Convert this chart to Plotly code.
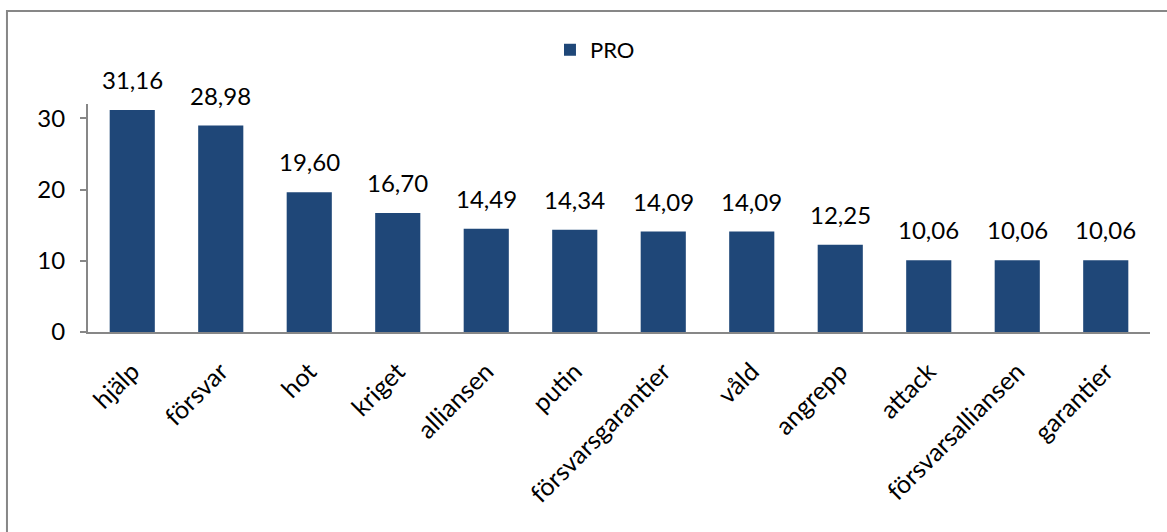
import plotly.graph_objects as go

categories = ["hjälp", "försvar", "hot", "kriget", "alliansen", "putin",
              "försvarsgarantier", "våld", "angrepp", "attack",
              "försvarsalliansen", "garantier"]
values = [31.16, 28.98, 19.60, 16.70, 14.49, 14.34, 14.09, 14.09, 12.25, 10.06, 10.06, 10.06]
series_name = "PRO"
y_ticks = [0, 10, 20, 30]

BAR = "#1F4778"
GRAY = "#878787"
FONT = "Lato"

fig = go.Figure()
fig.add_trace(go.Bar(x=categories, y=values, name=series_name,
                     marker=dict(color=BAR, line=dict(width=0)),
                     width=0.51, showlegend=True))

for c, v in zip(categories, values):
    fig.add_annotation(x=c, y=v, text=f"{v:.2f}".replace(".", ","),
                       showarrow=False, yanchor="bottom", yshift=14,
                       font=dict(family=FONT, size=24, color="#000"))

fig.add_shape(type="rect", xref="paper", yref="paper",
              x0=-0.0763, x1=1.2, y0=-1.2, y1=1.408,
              line=dict(color=GRAY, width=2), fillcolor="rgba(0,0,0,0)", layer="below")

fig.update_layout(
    width=1167, height=532,
    margin=dict(l=88, r=17, t=104, b=200, autoexpand=False),
    paper_bgcolor="white", plot_bgcolor="white",
    bargap=0.49,
    font=dict(family=FONT, size=22, color="#000"),
    legend=dict(orientation="h", x=0.435, xanchor="left", y=1.237, yanchor="middle",
                font=dict(family=FONT, size=22, color="#000"), itemwidth=30,
                bgcolor="rgba(0,0,0,0)"),
    xaxis=dict(showline=True, linecolor=GRAY, linewidth=2, tickangle=-45,
               ticks="", ticklabelstandoff=13,
               tickfont=dict(family=FONT, size=25, color="#000"),
               showgrid=False, zeroline=False),
    yaxis=dict(range=[0, 32], tickvals=y_ticks, showline=True, linecolor=GRAY, linewidth=2,
               ticks="outside", ticklen=6, tickcolor=GRAY, tickwidth=2,
               ticklabelstandoff=10,
               tickfont=dict(family=FONT, size=24, color="#000"),
               showgrid=False, zeroline=False),
)

fig.write_html("out.html", config={"displayModeBar": False},
               post_script="document.body.style.margin='0px';")
